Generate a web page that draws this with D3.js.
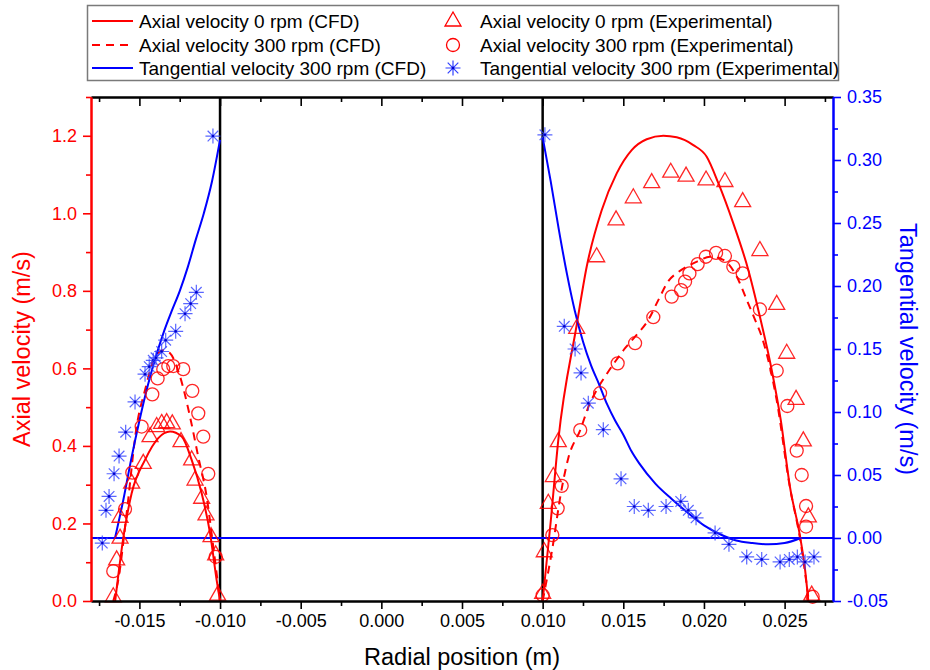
<!DOCTYPE html>
<html>
<head>
<meta charset="utf-8">
<script src="https://cdn.jsdelivr.net/npm/d3@7"></script>
<style>
  body { margin: 0; background: #fff; }
  svg { font-family: Arial, "Liberation Sans", sans-serif; }
</style>
</head>
<body>
<svg id="chart" width="930" height="670"></svg>
<script>
// ---------------------------------------------------------------------------
// DATA  (radial position in m, velocity in m/s)
// ---------------------------------------------------------------------------
// Axial velocity 0 rpm (CFD), both sides of the annulus
const axial0CfdLeft = [[-0.01650,0],[-0.0160,0.162],[-0.01548,0.278],[-0.01465,0.364],[-0.01383,0.420],
  [-0.0131,0.437],[-0.01238,0.424],[-0.01176,0.364],[-0.01114,0.278],[-0.01062,0.175],[-0.01021,0.054],[-0.0100,0]];
const axial0CfdRight = [[0.0100,0],[0.0105,0.205],[0.01097,0.415],[0.01211,0.712],[0.01273,0.862],[0.01366,1.008],
  [0.01459,1.103],[0.01552,1.163],[0.01645,1.191],[0.01748,1.200],[0.01831,1.196],[0.01934,1.176],[0.02017,1.146],
  [0.0209,1.077],[0.02182,0.974],[0.02275,0.854],[0.02347,0.733],[0.0242,0.596],[0.02476,0.467],[0.02533,0.295],
  [0.02596,0.166],[0.02627,0.080],[0.02647,0]];

// Axial velocity 300 rpm (CFD)
const axial300CfdLeft = [[-0.01662,0],[-0.01631,0.054],[-0.01579,0.226],[-0.01517,0.450],[-0.01465,0.544],
  [-0.01403,0.630],[-0.01352,0.647],[-0.0131,0.639],[-0.01248,0.579],[-0.01186,0.475],[-0.01135,0.372],
  [-0.01083,0.269],[-0.01042,0.140],[-0.0100,0]];
const axial300CfdRight = [[0.0100,0],[0.01062,0.140],[0.01113,0.278],[0.01160,0.370],[0.01233,0.441],[0.01288,0.505],
  [0.01335,0.544],[0.01387,0.579],[0.01449,0.617],[0.01511,0.652],[0.01573,0.682],[0.01655,0.725],[0.01717,0.776],
  [0.01779,0.825],[0.01840,0.848],[0.01900,0.864],[0.01960,0.876],[0.02037,0.888],[0.0212,0.880],[0.02203,0.837],
  [0.02265,0.777],[0.02317,0.725],[0.02358,0.682],[0.02399,0.621],[0.0245,0.52],[0.0253,0.30],[0.0260,0.15],[0.0265,0]];

// Tangential velocity 300 rpm (CFD)
const tangCfdLeft = [[-0.01651,0],[-0.0160,0.030],[-0.0155,0.063],[-0.0150,0.093],[-0.0145,0.120],[-0.0140,0.143],
  [-0.0135,0.163],[-0.0130,0.180],[-0.0125,0.196],[-0.0120,0.215],[-0.0115,0.237],[-0.0110,0.258],[-0.0105,0.283],
  [-0.0100,0.316]];
const tangCfdRight = [[0.0100,0.318],[0.0105,0.283],[0.0110,0.245],[0.0115,0.210],[0.0120,0.180],[0.0125,0.156],
  [0.0130,0.137],[0.0135,0.122],[0.0140,0.106],[0.0145,0.093],[0.0150,0.082],[0.0155,0.069],[0.0160,0.059],
  [0.0170,0.043],[0.0180,0.031],[0.0190,0.020],[0.0200,0.010],[0.0210,0.003],[0.0220,-0.002],[0.0230,-0.004],
  [0.0240,-0.005],[0.0250,-0.004],[0.0260,0.000]];

// Axial velocity 0 rpm (Experimental)
const axial0Exp = [[-0.01662,0.011],[-0.01641,0.106],[-0.0162,0.162],[-0.0162,0.216],[-0.01548,0.304],
  [-0.01476,0.355],[-0.01434,0.424],[-0.01393,0.450],[-0.01362,0.458],[-0.01331,0.460],[-0.01296,0.457],
  [-0.01242,0.411],[-0.01176,0.364],[-0.01155,0.312],[-0.01114,0.265],[-0.01087,0.222],[-0.01056,0.166],
  [-0.01027,0.119],[-0.01015,0.015],
  [0.0100,0.020],[0.0101,0.127],[0.01035,0.252],[0.01066,0.321],[0.01097,0.411],[0.01211,0.703],[0.01335,0.888],
  [0.01455,0.983],[0.01562,1.040],[0.01676,1.079],[0.01794,1.106],[0.01889,1.096],[0.02013,1.086],[0.0213,1.082],
  [0.0224,1.030],[0.02347,0.904],[0.02451,0.765],[0.02513,0.639],[0.02571,0.520],[0.02616,0.413],[0.02647,0.217],
  [0.02668,0.015]];

// Axial velocity 300 rpm (Experimental)
const axial300Exp = [[-0.01662,0.077],[-0.01589,0.237],[-0.01544,0.331],[-0.01486,0.450],[-0.0142,0.533],
  [-0.01387,0.574],[-0.01352,0.598],[-0.01321,0.606],[-0.0129,0.606],[-0.01228,0.598],[-0.01172,0.542],
  [-0.01135,0.484],[-0.01104,0.424],[-0.01073,0.328],[-0.01027,0.114],
  [0.0100,0.015],[0.0106,0.170],[0.01093,0.239],[0.01118,0.297],[0.01233,0.441],[0.01356,0.536],[0.01465,0.613],
  [0.01573,0.665],[0.01686,0.732],[0.0180,0.785],[0.01858,0.802],[0.01883,0.824],[0.0191,0.845],[0.01961,0.869],
  [0.02012,0.888],[0.02075,0.898],[0.0213,0.890],[0.02182,0.862],[0.0224,0.845],[0.02347,0.752],[0.02451,0.594],
  [0.02517,0.503],[0.02575,0.388],[0.02606,0.325],[0.02633,0.245],[0.02633,0.192],[0.02674,0.011]];

// Tangential velocity 300 rpm (Experimental)
const tangExp = [[-0.0173,-0.004],[-0.01707,0.022],[-0.01688,0.033],[-0.01657,0.051],[-0.01626,0.065],
  [-0.01585,0.084],[-0.01527,0.108],[-0.01465,0.130],[-0.01439,0.136],[-0.01414,0.141],[-0.01397,0.143],
  [-0.01362,0.148],[-0.01337,0.157],[-0.01275,0.164],[-0.01217,0.178],[-0.01182,0.186],[-0.01147,0.195],
  [-0.01044,0.319],
  [0.01014,0.320],[0.01134,0.168],[0.01201,0.150],[0.01238,0.131],[0.01283,0.107],[0.01376,0.086],[0.01486,0.047],
  [0.01568,0.025],[0.01655,0.022],[0.01765,0.025],[0.01856,0.029],[0.01903,0.022],[0.01951,0.016],[0.02069,0.004],
  [0.02155,-0.005],[0.02265,-0.015],[0.02358,-0.017],[0.02472,-0.019],[0.02529,-0.017],[0.02579,-0.015],
  [0.02627,-0.019],[0.02682,-0.015]];

// walls of the annulus
const wallPositions = [-0.010, 0.010];

// tick values
const xTicks = [-0.015, -0.010, -0.005, 0, 0.005, 0.010, 0.015, 0.020, 0.025];
const xMinorTicks = [-0.0175, -0.0125, -0.0075, -0.0025, 0.0025, 0.0075, 0.0125, 0.0175, 0.0225, 0.0275];
const axialTicks = [0, 0.2, 0.4, 0.6, 0.8, 1.0, 1.2];
const axialMinorTicks = [0.1, 0.3, 0.5, 0.7, 0.9, 1.1, 1.3];
const tangTicks = [-0.05, 0, 0.05, 0.10, 0.15, 0.20, 0.25, 0.30, 0.35];
const tangMinorTicks = [-0.025, 0.025, 0.075, 0.125, 0.175, 0.225, 0.275, 0.325];

// ---------------------------------------------------------------------------
const RED = "#ff0000";
const BLUE = "#0000ff";
const FONT = "Arial, 'Liberation Sans', sans-serif";
const margin = { top: 97, right: 97, bottom: 69, left: 91 };
const width = 930, height = 670;

const svg = d3.select("#chart");

const x = d3.scaleLinear().domain([-0.018, 0.028]).range([margin.left, width - margin.right]);
const yAxial = d3.scaleLinear().domain([0, 1.3]).range([height - margin.bottom, margin.top]);
const yTang = d3.scaleLinear().domain([-0.05, 0.35]).range([height - margin.bottom, margin.top]);

const plot = svg.append("g").attr("class", "plot");

// walls and zero tangential line
plot.selectAll("line.wall")
  .data(wallPositions)
  .enter().append("line")
  .attr("class", "wall")
  .attr("x1", d => x(d)).attr("x2", d => x(d))
  .attr("y1", yAxial.range()[0]).attr("y2", yAxial.range()[1])
  .attr("stroke", "#000").attr("stroke-width", 2.5);

plot.append("line")
  .attr("x1", x.range()[0]).attr("x2", x.range()[1])
  .attr("y1", yTang(0)).attr("y2", yTang(0))
  .attr("stroke", BLUE).attr("stroke-width", 2);

// CFD lines
function drawLine(data, yScale, color, dash) {
  const line = d3.line().x(d => x(d[0])).y(d => yScale(d[1])).curve(d3.curveMonotoneX);
  plot.append("path")
    .datum(data)
    .attr("fill", "none")
    .attr("stroke", color)
    .attr("stroke-width", 2)
    .attr("stroke-dasharray", dash || null)
    .attr("d", line);
}
drawLine(axial0CfdLeft, yAxial, RED);
drawLine(axial0CfdRight, yAxial, RED);
drawLine(axial300CfdLeft, yAxial, RED, "8,6");
drawLine(axial300CfdRight, yAxial, RED, "8,6");
drawLine(tangCfdLeft, yTang, BLUE);
drawLine(tangCfdRight, yTang, BLUE);

// marker shapes
const triPath = "M0,-9L8,5L-8,5Z";
function starPath(r) {
  let p = "";
  for (let k = 0; k < 4; k++) {
    const a = k * Math.PI / 4;
    const dx = r * Math.cos(a), dy = r * Math.sin(a);
    p += `M${-dx},${-dy}L${dx},${dy}`;
  }
  return p;
}

plot.append("g").selectAll("path")
  .data(axial0Exp).enter().append("path")
  .attr("transform", d => `translate(${x(d[0])},${yAxial(d[1])})`)
  .attr("d", triPath)
  .attr("fill", "none").attr("stroke", RED).attr("stroke-width", 1.3).attr("stroke-opacity", 0.85);

plot.append("g").selectAll("circle")
  .data(axial300Exp).enter().append("circle")
  .attr("cx", d => x(d[0])).attr("cy", d => yAxial(d[1])).attr("r", 6.5)
  .attr("fill", "none").attr("stroke", RED).attr("stroke-width", 1.3).attr("stroke-opacity", 0.85);

const stars = plot.append("g").selectAll("g")
  .data(tangExp).enter().append("g")
  .attr("transform", d => `translate(${x(d[0])},${yTang(d[1])})`);
stars.append("path").attr("d", starPath(7.5))
  .attr("fill", "none").attr("stroke", "#3040ff").attr("stroke-width", 1.2).attr("stroke-opacity", 0.8);
stars.append("circle").attr("r", 1.3).attr("fill", "#0000cc");

// ---------------------------------------------------------------------------
// AXES
// ---------------------------------------------------------------------------
function styleAxis(g, color) {
  g.selectAll("path.domain").attr("stroke", color).attr("stroke-width", 2);
  g.selectAll(".tick line").attr("stroke", color).attr("stroke-width", 1.6);
  g.selectAll(".tick text").attr("fill", color).attr("font-size", 18).attr("font-family", FONT);
}

const yBottom = height - margin.bottom;

// bottom
svg.append("g").attr("transform", `translate(0,${yBottom})`)
  .call(d3.axisBottom(x).tickValues(xMinorTicks).tickSize(5).tickSizeOuter(0).tickFormat(""))
  .call(g => styleAxis(g, "#000"));
svg.append("g").attr("transform", `translate(0,${yBottom})`)
  .call(d3.axisBottom(x).tickValues(xTicks).tickSize(8).tickSizeOuter(0).tickPadding(5)
    .tickFormat(d => d.toFixed(3)))
  .call(g => styleAxis(g, "#000"));

// top (ticks pointing into the plot)
svg.append("g").attr("transform", `translate(0,${margin.top})`)
  .call(d3.axisBottom(x).tickValues(xMinorTicks).tickSize(5).tickSizeOuter(0).tickFormat(""))
  .call(g => styleAxis(g, "#000"));
svg.append("g").attr("transform", `translate(0,${margin.top})`)
  .call(d3.axisBottom(x).tickValues(xTicks).tickSize(9).tickSizeOuter(0).tickFormat(""))
  .call(g => styleAxis(g, "#000"));

// left (axial)
svg.append("g").attr("transform", `translate(${margin.left},0)`)
  .call(d3.axisLeft(yAxial).tickValues(axialMinorTicks).tickSize(5).tickSizeOuter(0).tickFormat(""))
  .call(g => styleAxis(g, RED));
svg.append("g").attr("transform", `translate(${margin.left},0)`)
  .call(d3.axisLeft(yAxial).tickValues(axialTicks).tickSize(8).tickSizeOuter(0).tickPadding(6)
    .tickFormat(d => d.toFixed(1)))
  .call(g => styleAxis(g, RED));

// right (tangential)
svg.append("g").attr("transform", `translate(${width - margin.right},0)`)
  .call(d3.axisRight(yTang).tickValues(tangMinorTicks).tickSize(5).tickSizeOuter(0).tickFormat(""))
  .call(g => styleAxis(g, BLUE));
svg.append("g").attr("transform", `translate(${width - margin.right},0)`)
  .call(d3.axisRight(yTang).tickValues(tangTicks).tickSize(8).tickSizeOuter(0).tickPadding(6)
    .tickFormat(d => d.toFixed(2)))
  .call(g => styleAxis(g, BLUE));

// axis titles
svg.append("text")
  .attr("transform", `translate(30,${(margin.top + yBottom) / 2}) rotate(-90)`)
  .attr("text-anchor", "middle").attr("font-size", 23.5).attr("fill", RED)
  .text("Axial velocity (m/s)");
svg.append("text")
  .attr("transform", `translate(900,${(margin.top + yBottom) / 2}) rotate(90)`)
  .attr("text-anchor", "middle").attr("font-size", 23.5).attr("fill", BLUE)
  .text("Tangential velocity (m/s)");
svg.append("text")
  .attr("x", d3.mean(x.range())).attr("y", 665)
  .attr("text-anchor", "middle").attr("font-size", 23.5).attr("fill", "#000")
  .text("Radial position (m)");

// ---------------------------------------------------------------------------
// LEGEND
// ---------------------------------------------------------------------------
const legend = svg.append("g").attr("class", "legend");
legend.append("rect")
  .attr("x", 87.5).attr("y", 5.5).attr("width", 751).attr("height", 75)
  .attr("fill", "#fff").attr("stroke", "#7a7a7a").attr("stroke-width", 1.5);

const rowY = [21, 45, 68];
const lineItems = [
  { label: "Axial velocity 0 rpm (CFD)", color: RED, dash: null },
  { label: "Axial velocity 300 rpm (CFD)", color: RED, dash: "8,6" },
  { label: "Tangential velocity 300 rpm (CFD)", color: BLUE, dash: null }
];
const symbolItems = [
  { label: "Axial velocity 0 rpm (Experimental)", kind: "tri" },
  { label: "Axial velocity 300 rpm (Experimental)", kind: "circle" },
  { label: "Tangential velocity 300 rpm (Experimental)", kind: "star" }
];

lineItems.forEach((it, i) => {
  legend.append("line")
    .attr("x1", 92).attr("x2", 133).attr("y1", rowY[i]).attr("y2", rowY[i])
    .attr("stroke", it.color).attr("stroke-width", 2).attr("stroke-dasharray", it.dash);
  legend.append("text")
    .attr("x", 139).attr("y", rowY[i]).attr("dy", "0.35em")
    .attr("font-size", 19).attr("fill", "#000").text(it.label);
});

symbolItems.forEach((it, i) => {
  const g = legend.append("g").attr("transform", `translate(453,${rowY[i]})`);
  if (it.kind === "tri") {
    g.append("path").attr("d", triPath).attr("fill", "none").attr("stroke", RED).attr("stroke-width", 1.3);
  } else if (it.kind === "circle") {
    g.append("circle").attr("r", 6.5).attr("fill", "none").attr("stroke", RED).attr("stroke-width", 1.3);
  } else {
    g.append("path").attr("d", starPath(7.5)).attr("fill", "none").attr("stroke", "#3040ff").attr("stroke-width", 1.2);
    g.append("circle").attr("r", 1.3).attr("fill", "#0000cc");
  }
  legend.append("text")
    .attr("x", 480).attr("y", rowY[i]).attr("dy", "0.35em")
    .attr("font-size", 19).attr("fill", "#000").text(it.label);
});
</script>
</body>
</html>
